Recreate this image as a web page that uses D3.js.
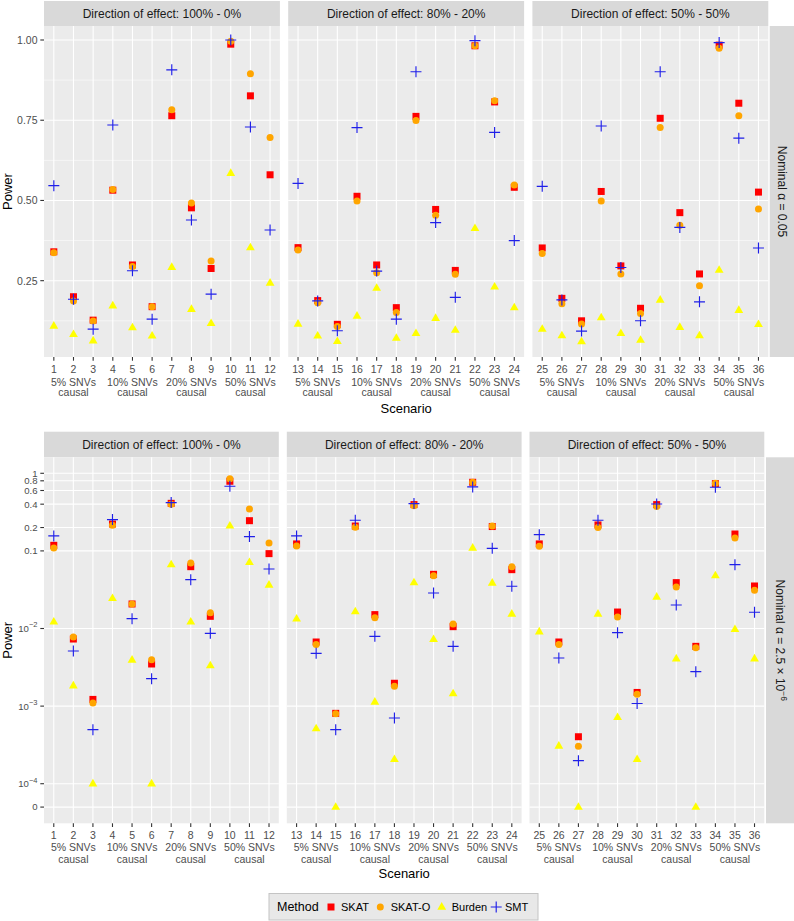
<!DOCTYPE html>
<html><head><meta charset="utf-8">
<script src="https://cdn.jsdelivr.net/npm/d3@7"></script>
<style>
body{margin:0;background:#fff}
svg{display:block}
text{font-family:"Liberation Sans",Arial,Helvetica,sans-serif}
</style>
</head><body>
<svg id="chart" width="794" height="921"></svg>
<script>
// ---------------- DATA ----------------
const scenarios = [1,2,3,4,5,6,7,8,9,10,11,12,13,14,15,16,17,18,19,20,21,22,23,24,25,26,27,28,29,30,31,32,33,34,35,36];
const facetLabels = ["Direction of effect: 100% - 0%", "Direction of effect: 80% - 20%", "Direction of effect: 50% - 50%"];
const groupLabels = ["5% SNVs", "10% SNVs", "20% SNVs", "50% SNVs"];
const groupSubLabel = "causal";
const groupCenters = [2, 5, 8, 11];
const methods = ["SKAT", "SKAT-O", "Burden", "SMT"];
const methodColors = ["#ff0000", "#ffa500", "#ffff00", "#1f1fe8"];

// Nominal alpha = 0.05
const skat05   = [0.340,0.200,0.127,0.532,0.299,0.169,0.764,0.477,0.288,0.987,0.826,0.580, 0.353,0.188,0.114,0.513,0.299,0.166,0.762,0.472,0.282,0.982,0.807,0.541, 0.352,0.195,0.125,0.528,0.296,0.164,0.756,0.462,0.271,0.984,0.803,0.526];
const skato05  = [0.337,0.187,0.124,0.534,0.294,0.169,0.783,0.492,0.311,0.996,0.895,0.696, 0.346,0.181,0.107,0.498,0.275,0.151,0.749,0.454,0.270,0.982,0.811,0.548, 0.335,0.178,0.115,0.498,0.271,0.148,0.727,0.423,0.234,0.974,0.764,0.473];
const burden05 = [0.109,0.083,0.063,0.172,0.104,0.078,0.292,0.161,0.117,0.585,0.353,0.243, 0.115,0.078,0.061,0.140,0.227,0.071,0.086,0.133,0.096,0.413,0.231,0.166, 0.099,0.079,0.060,0.135,0.086,0.065,0.190,0.105,0.079,0.283,0.158,0.114];
const smt05    = [0.546,0.192,0.099,0.735,0.281,0.130,0.907,0.439,0.208,1.000,0.729,0.408, 0.553,0.187,0.094,0.727,0.280,0.130,0.901,0.431,0.198,0.998,0.712,0.375, 0.544,0.190,0.093,0.732,0.291,0.125,0.901,0.416,0.184,0.992,0.694,0.352];

// Nominal alpha = 2.5e-6
const skatGW   = [0.118,0.00732,0.00122,0.222,0.0207,0.00349,0.410,0.0626,0.01435,0.789,0.245,0.0922, 0.123,0.0067,0.000807,0.209,0.0151,0.00197,0.395,0.0499,0.01056,0.766,0.206,0.0573, 0.123,0.0067,0.000403,0.216,0.0163,0.0015,0.395,0.039,0.00589,0.736,0.165,0.0353];
const skatoGW  = [0.109,0.00777,0.00110,0.214,0.0207,0.00396,0.400,0.0699,0.0160,0.853,0.347,0.126, 0.116,0.0062,0.0008,0.201,0.0138,0.0018,0.383,0.048,0.0114,0.766,0.209,0.0626, 0.115,0.0062,0.000303,0.1995,0.0141,0.00142,0.372,0.0343,0.00566,0.743,0.147,0.031];
const burdenGW = [0.0122,0.00183,0.0001,0.0245,0.00393,0.0001,0.0665,0.0122,0.00332,0.210,0.0713,0.0364, 0.0133,0.000512,0,0.0165,0.00113,0.000206,0.039,0.00725,0.00145,0.109,0.0386,0.0154, 0.0091,0.000306,0,0.0154,0.000716,0.000206,0.0255,0.00408,0,0.048,0.00975,0.00408];
const smtGW    = [0.156,0.00513,0.000497,0.253,0.0134,0.00226,0.419,0.0426,0.00866,0.680,0.153,0.0585, 0.156,0.00479,0.000497,0.248,0.00793,0.000702,0.407,0.0287,0.00589,0.667,0.108,0.035, 0.162,0.00417,0.000198,0.248,0.00884,0.00108,0.402,0.0201,0.00278,0.660,0.0665,0.0162];

// Tick values and labels
const ticks05 = [0.25, 0.50, 0.75, 1.00];
const minor05 = [0.125, 0.375, 0.625, 0.875];
const ticksGW = [0, 1e-4, 1e-3, 1e-2, 0.1, 0.2, 0.4, 0.6, 0.8, 1];
const tickLabelsGW = [["0"], ["10","\u22124"], ["10","\u22123"], ["10","\u22122"], ["0.1"], ["0.2"], ["0.4"], ["0.6"], ["0.8"], ["1"]];
const zeroProxy = 5e-5; // position used for zero power on the log axis

// ---------------- LAYOUT ----------------
const svg = d3.select("#chart");
const rows = [
  {top:26, bottom:357, lefts:[44,288.2,532.4], width:235.9, stripTop:1, rstrip:[769.7,794],
   numY:369.3, g1Y:381.7, g2Y:392.3, titleY:408.3, tickFont:10.5,
   series:[skat05, skato05, burden05, smt05], rlabel:["Nominal \u03b1 = 0.05"], type:"lin"},
  {top:457.3, bottom:823.3, lefts:[44,286.8,529.5], width:234.8, stripTop:431.7, rstrip:[766,794],
   numY:835, g1Y:847, g2Y:858.7, titleY:873.3, tickFont:9.6,
   series:[skatGW, skatoGW, burdenGW, smtGW], rlabel:["Nominal \u03b1 = 2.5 \u00d7 10","\u22126"], type:"log"}
];

function markPath(sel, m, color) {
  if (m === 0) {
    sel.append("rect").attr("x",-3.5).attr("y",-3.5).attr("width",7).attr("height",7).attr("fill",color);
  } else if (m === 1) {
    sel.append("circle").attr("r",3.5).attr("fill",color);
  } else if (m === 2) {
    sel.append("path").attr("d","M0,-4.9L4.4,2.7L-4.4,2.7Z").attr("fill",color);
  } else {
    sel.append("path").attr("d","M-5.5,0H5.5M0,-5.5V5.5").attr("stroke",color).attr("stroke-width",1.15).attr("fill","none");
  }
}

rows.forEach((row, ri) => {
  let y;
  let yv;
  if (row.type === "lin") {
    y = d3.scaleLinear().domain([0.0122, 1.0436]).range([row.bottom, row.top]);
    yv = v => y(v);
  } else {
    y = d3.scaleLog().domain([Math.pow(10,-4.51), Math.pow(10,0.206)]).range([row.bottom, row.top]);
    yv = v => y(v === 0 ? zeroProxy : v);
  }
  const g = svg.append("g");

  row.lefts.forEach((left, p) => {
    const x = d3.scaleLinear().domain([0.5, 12.5]).range([left, left + row.width]);
    const pg = g.append("g");
    // strip
    pg.append("rect").attr("x", left).attr("y", row.stripTop).attr("width", row.width)
      .attr("height", row.top - row.stripTop).attr("fill", "#d9d9d9");
    pg.append("text").attr("x", left + row.width/2).attr("y", (row.stripTop + row.top)/2)
      .attr("text-anchor","middle").attr("dominant-baseline","central")
      .attr("font-size", 12).attr("fill", "#1a1a1a").text(facetLabels[p]);
    // panel
    pg.append("rect").attr("x", left).attr("y", row.top).attr("width", row.width)
      .attr("height", row.bottom - row.top).attr("fill", "#ebebeb");
    // grid
    if (row.type === "lin") {
      minor05.forEach(t => pg.append("line").attr("x1",left).attr("x2",left+row.width)
        .attr("y1",yv(t)).attr("y2",yv(t)).attr("stroke","#fff").attr("stroke-width",0.55));
      ticks05.forEach(t => pg.append("line").attr("x1",left).attr("x2",left+row.width)
        .attr("y1",yv(t)).attr("y2",yv(t)).attr("stroke","#fff").attr("stroke-width",1.1));
    } else {
      ticksGW.forEach(t => pg.append("line").attr("x1",left).attr("x2",left+row.width)
        .attr("y1",yv(t)).attr("y2",yv(t)).attr("stroke","#fff").attr("stroke-width",1.1));
    }
    const local = scenarios.slice(p*12, p*12+12);
    local.forEach((s, i) => {
      const xx = x(i + 1);
      pg.append("line").attr("x1",xx).attr("x2",xx).attr("y1",row.top).attr("y2",row.bottom)
        .attr("stroke","#fff").attr("stroke-width",1.1);
      pg.append("line").attr("x1",xx).attr("x2",xx).attr("y1",row.bottom).attr("y2",row.bottom+3.7)
        .attr("stroke","#333").attr("stroke-width",1.1);
      pg.append("text").attr("x",xx).attr("y",row.numY).attr("text-anchor","middle")
        .attr("dominant-baseline","central").attr("font-size",10.5).attr("fill","#4d4d4d").text(s);
    });
    groupLabels.forEach((gl, k) => {
      const xx = x(groupCenters[k]);
      pg.append("text").attr("x",xx).attr("y",row.g1Y).attr("text-anchor","middle")
        .attr("dominant-baseline","central").attr("font-size",10.5).attr("fill","#4d4d4d").text(gl);
      pg.append("text").attr("x",xx).attr("y",row.g2Y).attr("text-anchor","middle")
        .attr("dominant-baseline","central").attr("font-size",10.5).attr("fill","#4d4d4d").text(groupSubLabel);
    });
    // points
    row.series.forEach((ser, m) => {
      local.forEach((s, i) => {
        const v = ser[s - 1];
        const mg = pg.append("g").attr("transform", `translate(${x(i+1)},${yv(v)})`);
        markPath(mg, m, methodColors[m]);
      });
    });
  });

  // y axis
  const left0 = row.lefts[0];
  if (row.type === "lin") {
    ticks05.forEach(t => {
      g.append("line").attr("x1",left0-3.7).attr("x2",left0).attr("y1",yv(t)).attr("y2",yv(t))
        .attr("stroke","#333").attr("stroke-width",1.1);
      g.append("text").attr("x",left0-6.5).attr("y",yv(t)).attr("text-anchor","end")
        .attr("dominant-baseline","central").attr("font-size",row.tickFont).attr("fill","#4d4d4d")
        .text(d3.format(".2f")(t));
    });
  } else {
    ticksGW.forEach((t, k) => {
      g.append("line").attr("x1",left0-3.7).attr("x2",left0).attr("y1",yv(t)).attr("y2",yv(t))
        .attr("stroke","#333").attr("stroke-width",1.1);
      const lab = tickLabelsGW[k];
      const tx = g.append("text").attr("x",left0-6.5).attr("y",yv(t)+3.4).attr("text-anchor","end")
        .attr("font-size",row.tickFont).attr("fill","#4d4d4d");
      tx.append("tspan").text(lab[0]);
      if (lab.length > 1) tx.append("tspan").attr("dy",-4.5).attr("font-size",7.5).text(lab[1]);
    });
  }
  // y title
  const cy = (row.top + row.bottom)/2;
  g.append("text").attr("transform",`translate(7.5,${cy}) rotate(-90)`).attr("text-anchor","middle")
    .attr("dominant-baseline","central").attr("font-size",13).attr("fill","#000").text("Power");
  // x title
  const lastRight = row.lefts[2] + row.width;
  g.append("text").attr("x",(left0 + lastRight)/2).attr("y",row.titleY).attr("text-anchor","middle")
    .attr("dominant-baseline","central").attr("font-size",13).attr("fill","#000").text("Scenario");
  // right strip
  g.append("rect").attr("x",row.rstrip[0]).attr("y",row.top).attr("width",row.rstrip[1]-row.rstrip[0])
    .attr("height",row.bottom-row.top).attr("fill","#d9d9d9");
  const rt = g.append("text")
    .attr("transform",`translate(${(row.rstrip[0]+row.rstrip[1])/2 - 4},${cy}) rotate(90)`)
    .attr("text-anchor","middle").attr("font-size",12).attr("fill","#1a1a1a");
  rt.append("tspan").text(row.rlabel[0]);
  if (row.rlabel.length > 1) rt.append("tspan").attr("dy",-5).attr("font-size",8.5).text(row.rlabel[1]);
});

// ---------------- LEGEND ----------------
const lg = svg.append("g");
lg.append("rect").attr("x",269).attr("y",893.5).attr("width",269).attr("height",26.5)
  .attr("fill","#e8e8e8").attr("stroke","#c4c4c4").attr("stroke-width",1);
const legY = 907;
lg.append("text").attr("x",277).attr("y",legY).attr("dominant-baseline","central")
  .attr("font-size",12.5).attr("fill","#000").text("Method");
const keyX = [331, 380.3, 441.7, 496.2];
const labX = [341, 390.7, 451.7, 505];
methods.forEach((m, k) => {
  const kg = lg.append("g").attr("transform",`translate(${keyX[k]},${legY})`);
  markPath(kg, k, methodColors[k]);
  lg.append("text").attr("x",labX[k]).attr("y",legY).attr("dominant-baseline","central")
    .attr("font-size",11).attr("fill","#000").text(m);
});
</script>
</body></html>
